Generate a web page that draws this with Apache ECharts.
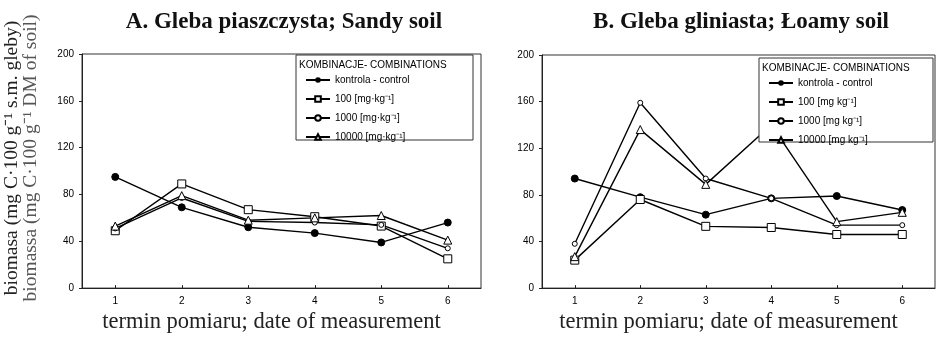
<!DOCTYPE html>
<html>
<head>
<meta charset="utf-8">
<script src="https://cdn.jsdelivr.net/npm/echarts@6/dist/echarts.min.js"></script>
<style>
  html, body { margin: 0; padding: 0; background: #fff; }
  #chart { width: 941px; height: 339px; }
</style>
</head>
<body>
<div id="chart"></div>
<script>
const dates = ["1", "2", "3", "4", "5", "6"];
const yTicks = [0, 40, 80, 120, 160, 200];

// A. sandy soil
const sandyControl = [95, 69, 52, 47, 39, 56];
const sandy100 = [49, 89, 67, 61, 53, 25];
const sandy1000 = [51, 77, 57, 56, 54, 34];
const sandy10000 = [53, 79, 58, 60, 62, 41];

// B. loamy soil
const loamyControl = [94, 78, 63, 77, 79, 67];
const loamy100 = [24, 76, 53, 52, 46, 46];
const loamy1000 = [38, 159, 94, 77, 54, 54];
const loamy10000 = [27, 136, 89, 140, 57, 65];

const namesA = ["kontrola - control", "100 [mg·kg⁻¹]", "1000 [mg·kg⁻¹]", "10000 [mg·kg⁻¹]"];
// trailing space keeps the names unique; trimmed in the legend
const namesB = ["kontrola - control ", "100 [mg kg⁻¹]", "1000 [mg kg⁻¹]", "10000 [mg kg⁻¹]"];

const sans = "Liberation Sans, Arial, sans-serif";
const serif = "Liberation Serif, Times New Roman, serif";

const styles = [
  { symbol: "circle", symbolSize: 7, itemStyle: { color: "#000", borderColor: "#000" } },
  { symbol: "rect", symbolSize: 8, itemStyle: { color: "#fff", borderColor: "#000", borderWidth: 1 } },
  { symbol: "circle", symbolSize: 5, itemStyle: { color: "#fff", borderColor: "#000", borderWidth: 1 } },
  { symbol: "triangle", symbolSize: 8, itemStyle: { color: "#fff", borderColor: "#000", borderWidth: 1 } },
];

function makeSeries(names, values, idx) {
  return values.map((v, i) => ({
    name: names[i],
    type: "line",
    xAxisIndex: idx,
    yAxisIndex: idx,
    data: v,
    symbol: styles[i].symbol,
    symbolSize: styles[i].symbolSize,
    showAllSymbol: true,
    itemStyle: styles[i].itemStyle,
    lineStyle: { color: "#000", width: 1.4 },
    z: 2,
  }));
}

function xAxis(grid) {
  return {
    type: "category",
    gridIndex: grid,
    data: dates,
    boundaryGap: true,
    axisLine: { lineStyle: { color: "#222" } },
    axisTick: { show: true, alignWithLabel: true, length: 3, inside: true, lineStyle: { color: "#222" } },
    axisLabel: { color: "#000", fontFamily: sans, fontSize: 10, margin: 8 },
    name: "termin pomiaru; date of measurement",
    nameLocation: "middle",
    nameGap: 21,
    nameTextStyle: { fontFamily: serif, fontSize: 22.5, color: "#222", padding: [0, 20, 0, 0] },
  };
}

function yAxis(grid) {
  return {
    type: "value",
    gridIndex: grid,
    min: yTicks[0],
    max: yTicks[yTicks.length - 1],
    interval: yTicks[1] - yTicks[0],
    splitLine: { show: false },
    axisLine: { show: true, lineStyle: { color: "#222" } },
    axisTick: { show: true, length: 3, lineStyle: { color: "#222" } },
    axisLabel: { color: "#000", fontFamily: sans, fontSize: 10, margin: 8 },
  };
}

function legend(names, left, top) {
  return {
    data: names,
    orient: "vertical",
    left: left,
    top: top,
    itemWidth: 24,
    itemHeight: 7,
    itemGap: 9,
    padding: 0,
    selectedMode: false,
    formatter: (name) => name.trim(),
    textStyle: { fontFamily: sans, fontSize: 10, color: "#000" },
    z: 60,
  };
}

const chart = echarts.init(document.getElementById("chart"));
chart.setOption({
  animation: false,
  backgroundColor: "#fff",
  title: [
    {
      text: "A. Gleba piaszczysta; Sandy soil",
      left: 279, top: 6, textAlign: "center",
      textStyle: { fontFamily: serif, fontWeight: "bold", fontSize: 23, color: "#111" },
    },
    {
      text: "B. Gleba gliniasta; Łoamy soil",
      left: 736, top: 6, textAlign: "center",
      textStyle: { fontFamily: serif, fontWeight: "bold", fontSize: 23, color: "#111" },
    },
  ],
  grid: [
    { left: 82, top: 54, width: 399, height: 237, show: true, borderColor: "#333", borderWidth: 1, backgroundColor: "transparent" },
    { left: 542, top: 55, width: 393, height: 237, show: true, borderColor: "#333", borderWidth: 1, backgroundColor: "transparent" },
  ],
  xAxis: [xAxis(0), xAxis(1)],
  yAxis: [yAxis(0), yAxis(1)],
  legend: [legend(namesA, 305, 75), legend(namesB, 768, 78)],
  graphic: {
    z: 50,
    elements: [
      { type: "rect", shape: { x: 296, y: 55, width: 177, height: 85 }, style: { fill: "#fff", stroke: "#333", lineWidth: 1 }, z: 50, z2: 1 },
      { type: "text", x: 299, y: 60, style: { text: "KOMBINACJE- COMBINATIONS", font: "10px " + sans, fill: "#000" }, z: 50, z2: 5 },
      { type: "rect", shape: { x: 759, y: 58, width: 174, height: 84 }, style: { fill: "#fff", stroke: "#333", lineWidth: 1 }, z: 50, z2: 1 },
      { type: "text", x: 762, y: 63, style: { text: "KOMBINACJE- COMBINATIONS", font: "10px " + sans, fill: "#000" }, z: 50, z2: 5 },
      {
        type: "text", x: 12, y: 158, rotation: Math.PI / 2,
        style: { text: "biomasa (mg C·100 g⁻¹ s.m. gleby)", font: "19.5px " + serif, fill: "#222", align: "center", verticalAlign: "middle" },
      },
      {
        type: "text", x: 31, y: 158, rotation: Math.PI / 2,
        style: { text: "biomassa (mg C·100 g⁻¹ DM of soil)", font: "19.5px " + serif, fill: "#555", align: "center", verticalAlign: "middle" },
      },
    ],
  },
  series: [
    ...makeSeries(namesA, [sandyControl, sandy100, sandy1000, sandy10000], 0),
    ...makeSeries(namesB, [loamyControl, loamy100, loamy1000, loamy10000], 1),
  ],
});
</script>
</body>
</html>
